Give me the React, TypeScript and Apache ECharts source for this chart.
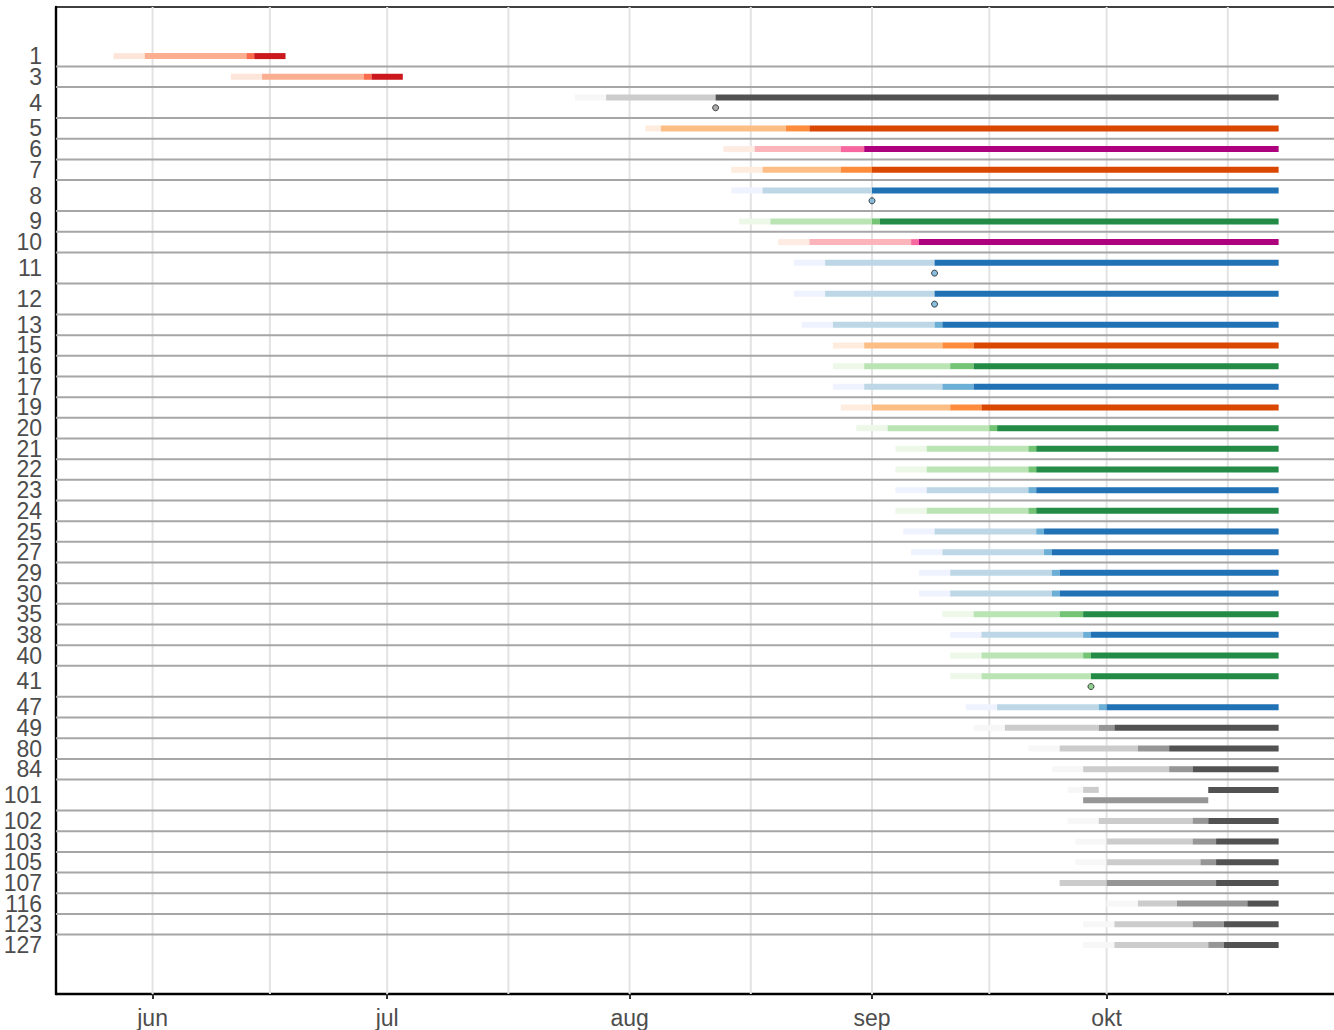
import React, { useEffect, useRef } from "react";
import * as echarts from "echarts";

const YEAR = 2021;

const rowLabels = [
  "1", "3", "4", "5", "6", "7", "8", "9", "10", "11", "12", "13", "15", "16", "17", "19", "20",
  "21", "22", "23", "24", "25", "27", "29", "30", "35", "38", "40", "41", "47", "49", "80", "84",
  "101", "102", "103", "105", "107", "116", "123", "127",
];

const rowPalette = [
  "Reds", "Reds", "Greys", "Oranges", "RdPu", "Oranges", "Blues", "Greens", "RdPu", "Blues",
  "Blues", "Blues", "Oranges", "Greens", "Blues", "Oranges", "Greens", "Greens", "Greens", "Blues",
  "Greens", "Blues", "Blues", "Blues", "Blues", "Greens", "Blues", "Greens", "Greens", "Blues",
  "Greys", "Greys", "Greys", "Greys", "Greys", "Greys", "Greys", "Greys", "Greys", "Greys", "Greys",
];

// stage 1 (lightest)
const stage1: (string[] | null)[] = [
  ["05-27", "05-31"], ["06-11", "06-15"], ["07-25", "07-29"], ["08-03", "08-05"], ["08-13", "08-17"],
  ["08-14", "08-18"], ["08-14", "08-18"], ["08-15", "08-19"], ["08-20", "08-24"], ["08-22", "08-26"],
  ["08-22", "08-26"], ["08-23", "08-27"], ["08-27", "08-31"], ["08-27", "08-31"], ["08-27", "08-31"],
  ["08-28", "09-01"], ["08-30", "09-03"], ["09-04", "09-08"], ["09-04", "09-08"], ["09-04", "09-08"],
  ["09-04", "09-08"], ["09-05", "09-09"], ["09-06", "09-10"], ["09-07", "09-11"], ["09-07", "09-11"],
  ["09-10", "09-14"], ["09-11", "09-15"], ["09-11", "09-15"], ["09-11", "09-15"], ["09-13", "09-17"],
  ["09-14", "09-18"], ["09-21", "09-25"], ["09-24", "09-28"], ["09-26", "09-28"], ["09-26", "09-30"],
  ["09-27", "10-01"], ["09-27", "10-01"], null, ["10-01", "10-05"], ["09-28", "10-02"], ["09-28", "10-02"],
];

// stage 2
const stage2: (string[] | null)[] = [
  ["05-31", "06-13"], ["06-15", "06-28"], ["07-29", "08-12"], ["08-05", "08-21"], ["08-17", "08-28"],
  ["08-18", "08-28"], ["08-18", "09-01"], ["08-19", "09-01"], ["08-24", "09-06"], ["08-26", "09-09"],
  ["08-26", "09-09"], ["08-27", "09-09"], ["08-31", "09-10"], ["08-31", "09-11"], ["08-31", "09-10"],
  ["09-01", "09-11"], ["09-03", "09-16"], ["09-08", "09-21"], ["09-08", "09-21"], ["09-08", "09-21"],
  ["09-08", "09-21"], ["09-09", "09-22"], ["09-10", "09-23"], ["09-11", "09-24"], ["09-11", "09-24"],
  ["09-14", "09-25"], ["09-15", "09-28"], ["09-15", "09-28"], ["09-15", "09-29"], ["09-17", "09-30"],
  ["09-18", "09-30"], ["09-25", "10-05"], ["09-28", "10-09"], ["09-28", "09-30"], ["09-30", "10-12"],
  ["10-01", "10-12"], ["10-01", "10-13"], ["09-25", "10-01"], ["10-05", "10-10"], ["10-02", "10-12"],
  ["10-02", "10-14"],
];

// stage 3
const stage3: (string[] | null)[] = [
  ["06-13", "06-14"], ["06-28", "06-29"], null, ["08-21", "08-24"], ["08-28", "08-31"],
  ["08-28", "09-01"], null, ["09-01", "09-02"], ["09-06", "09-07"], null,
  null, ["09-09", "09-10"], ["09-10", "09-14"], ["09-11", "09-14"], ["09-10", "09-14"],
  ["09-11", "09-15"], ["09-16", "09-17"], ["09-21", "09-22"], ["09-21", "09-22"], ["09-21", "09-22"],
  ["09-21", "09-22"], ["09-22", "09-23"], ["09-23", "09-24"], ["09-24", "09-25"], ["09-24", "09-25"],
  ["09-25", "09-28"], ["09-28", "09-29"], ["09-28", "09-29"], null, ["09-30", "10-01"],
  ["09-30", "10-02"], ["10-05", "10-09"], ["10-09", "10-12"], ["09-28", "10-14"], ["10-12", "10-14"],
  ["10-12", "10-15"], ["10-13", "10-15"], ["10-01", "10-15"], ["10-10", "10-19"], ["10-12", "10-16"],
  ["10-14", "10-16"],
];

// stage 4 (darkest)
const stage4: (string[] | null)[] = [
  ["06-14", "06-18"], ["06-29", "07-03"], ["08-12", "10-23"], ["08-24", "10-23"], ["08-31", "10-23"],
  ["09-01", "10-23"], ["09-01", "10-23"], ["09-02", "10-23"], ["09-07", "10-23"], ["09-09", "10-23"],
  ["09-09", "10-23"], ["09-10", "10-23"], ["09-14", "10-23"], ["09-14", "10-23"], ["09-14", "10-23"],
  ["09-15", "10-23"], ["09-17", "10-23"], ["09-22", "10-23"], ["09-22", "10-23"], ["09-22", "10-23"],
  ["09-22", "10-23"], ["09-23", "10-23"], ["09-24", "10-23"], ["09-25", "10-23"], ["09-25", "10-23"],
  ["09-28", "10-23"], ["09-29", "10-23"], ["09-29", "10-23"], ["09-29", "10-23"], ["10-01", "10-23"],
  ["10-02", "10-23"], ["10-09", "10-23"], ["10-12", "10-23"], ["10-14", "10-23"], ["10-14", "10-23"],
  ["10-15", "10-23"], ["10-15", "10-23"], ["10-15", "10-23"], ["10-19", "10-23"], ["10-16", "10-23"],
  ["10-16", "10-23"],
];

const dotDates: (string | null)[] = [
  null, null, "08-12", null, null, null, "09-01", null, null, "09-09",
  "09-09", null, null, null, null, null, null, null, null, null,
  null, null, null, null, null, null, null, null, "09-29", null,
  null, null, null, null, null, null, null, null, null, null, null,
];

const monthTickDates = ["06-01", "07-01", "08-01", "09-01", "10-01", "11-01"];
const monthNames = ["jun", "jul", "aug", "sep", "okt"];

const palettes: Record<string, string[]> = {
  Reds: ["#fee5d9", "#fcae91", "#fb6a4a", "#cb181d"],
  Greys: ["#f7f7f7", "#cccccc", "#969696", "#525252"],
  Oranges: ["#feedde", "#fdbe85", "#fd8d3c", "#d94701"],
  RdPu: ["#feebe2", "#fbb4b9", "#f768a1", "#ae017e"],
  Blues: ["#eff3ff", "#bdd7e7", "#6baed6", "#2171b5"],
  Greens: ["#edf8e9", "#bae4b3", "#74c476", "#238b45"],
};

const FONT = "'Liberation Sans', Arial, Helvetica, sans-serif";
const X_MIN = -12.35;
const X_MAX = 151.08;
const PAD = 1.875;

function day(s: string): number {
  const [m, d] = s.split("-").map(Number);
  return (Date.UTC(YEAR, m - 1, d) - Date.UTC(YEAR, 5, 1)) / 86400000;
}

function buildOption() {
  const stages = [stage1, stage2, stage3, stage4];
  const bars: { value: number[]; color: string }[] = [];
  const dots: any[] = [];
  const separators: number[] = [];
  const centers: number[] = [];
  let cursor = PAD;

  rowLabels.forEach((label, i) => {
    const pal = palettes[rowPalette[i]];
    const segs: { s: number; e: number; lvl: number; lane: number }[] = [];
    const lane0: { s: number; e: number }[] = [];
    stages.forEach((st, lvl) => {
      const p = st[i];
      if (!p) return;
      const s = day(p[0]);
      const e = day(p[1]);
      const overlaps = lane0.some((o) => s < o.e && e > o.s);
      const lane = overlaps ? 1 : 0;
      if (!overlaps) lane0.push({ s, e });
      segs.push({ s, e, lvl, lane });
    });
    const hasSecond = segs.some((g) => g.lane === 1) || !!dotDates[i];
    const h = hasSecond ? 1.5 : 1;
    const top = cursor;
    segs.forEach((g) => {
      bars.push({ value: [g.s, g.e, top + 0.5 + 0.5 * g.lane], color: pal[g.lvl] });
    });
    if (dotDates[i]) {
      dots.push({ value: [day(dotDates[i] as string), top + 1.0], itemStyle: { color: pal[2] } });
    }
    centers.push(top + h / 2);
    cursor += h;
    if (i < rowLabels.length - 1) separators.push(cursor);
  });
  const total = cursor + PAD;

  const monthDays = monthTickDates.map(day);
  const majorDays = monthDays.slice(0, monthNames.length);
  const gridDays: number[] = [];
  for (let k = 0; k < monthDays.length - 1; k++) {
    gridDays.push(monthDays[k]);
    gridDays.push((monthDays[k] + monthDays[k + 1]) / 2);
  }
  const nameMap = new Map<string, string>();
  majorDays.forEach((d, k) => nameMap.set(d.toFixed(2), monthNames[k]));

  return {
    animation: false,
    backgroundColor: "#ffffff",
    grid: { left: 56, top: 7, right: 0, bottom: 36, outerBoundsMode: "none", containLabel: false },
    xAxis: [
      {
        type: "value",
        min: X_MIN,
        max: X_MAX,
        axisLine: { show: true, onZero: false, lineStyle: { color: "#000000", width: 2.4 } },
        axisTick: {
          show: true,
          customValues: majorDays,
          length: 5,
          lineStyle: { color: "#333333", width: 2 },
        },
        axisLabel: {
          show: true,
          customValues: majorDays,
          showMinLabel: true,
          showMaxLabel: true,
          formatter: (v: number) => nameMap.get(v.toFixed(2)) ?? "",
          fontSize: 23,
          color: "#4d4d4d",
          fontFamily: FONT,
          margin: 12,
        },
        splitLine: { show: false },
      },
      {
        type: "value",
        position: "top",
        min: X_MIN,
        max: X_MAX,
        axisLine: { show: true, onZero: false, lineStyle: { color: "#000000", width: 1.6 } },
        axisTick: { show: false },
        axisLabel: { show: false },
        splitLine: { show: false },
      },
    ],
    yAxis: {
      type: "value",
      inverse: true,
      min: 0,
      max: total,
      axisLine: { show: true, onZero: false, lineStyle: { color: "#000000", width: 2.4 } },
      axisTick: { show: false },
      axisLabel: { show: false },
      splitLine: { show: false },
    },
    series: [
      {
        type: "custom",
        z: 1,
        silent: true,
        data: gridDays.map((d) => [d, 0]),
        encode: { x: 0, y: 1 },
        renderItem: (params: any, api: any) => {
          const x = api.coord([api.value(0), 0])[0];
          const cs = params.coordSys;
          return {
            type: "line",
            shape: { x1: x, y1: cs.y, x2: x, y2: cs.y + cs.height },
            style: { stroke: "#e3e3e3", lineWidth: 2 },
          };
        },
      },
      {
        type: "custom",
        z: 2,
        silent: true,
        data: separators.map((y) => [0, y]),
        encode: { x: 0, y: 1 },
        renderItem: (params: any, api: any) => {
          const y = api.coord([0, api.value(1)])[1];
          const cs = params.coordSys;
          return {
            type: "line",
            shape: { x1: cs.x, y1: y, x2: cs.x + cs.width, y2: y },
            style: { stroke: "#a6a6a6", lineWidth: 2 },
          };
        },
      },
      {
        type: "custom",
        z: 3,
        silent: true,
        data: bars.map((b) => b.value),
        encode: { x: [0, 1], y: 2 },
        renderItem: (params: any, api: any) => {
          const s = api.value(0);
          const e = api.value(1);
          const y = api.value(2);
          const p0 = api.coord([s, y]);
          const p1 = api.coord([e, y]);
          return {
            type: "rect",
            shape: { x: p0[0], y: p0[1] - 3, width: p1[0] - p0[0], height: 6 },
            style: { fill: bars[params.dataIndex].color },
          };
        },
      },
      {
        type: "scatter",
        z: 4,
        silent: true,
        symbol: "circle",
        symbolSize: 6,
        itemStyle: { borderColor: "#1a1a1a", borderWidth: 1 },
        data: dots,
      },
      {
        type: "custom",
        z: 5,
        silent: true,
        clip: false,
        data: centers.map((c) => [X_MIN, c]),
        encode: { x: 0, y: 1 },
        renderItem: (params: any, api: any) => {
          const p = api.coord([api.value(0), api.value(1)]);
          return {
            type: "text",
            x: p[0] - 14,
            y: p[1],
            style: {
              text: rowLabels[params.dataIndex],
              fill: "#4d4d4d",
              fontSize: 23,
              fontFamily: FONT,
              align: "right",
              verticalAlign: "middle",
            },
          };
        },
      },
    ],
  };
}

export default function App() {
  const ref = useRef<HTMLDivElement>(null);
  useEffect(() => {
    if (!ref.current) return;
    const chart = echarts.init(ref.current, null, { renderer: "svg" });
    chart.setOption(buildOption() as any);
    return () => chart.dispose();
  }, []);
  return (
    <div
      ref={ref}
      style={{ position: "absolute", left: 0, top: 0, width: 1334, height: 1030, background: "#fff" }}
    />
  );
}
